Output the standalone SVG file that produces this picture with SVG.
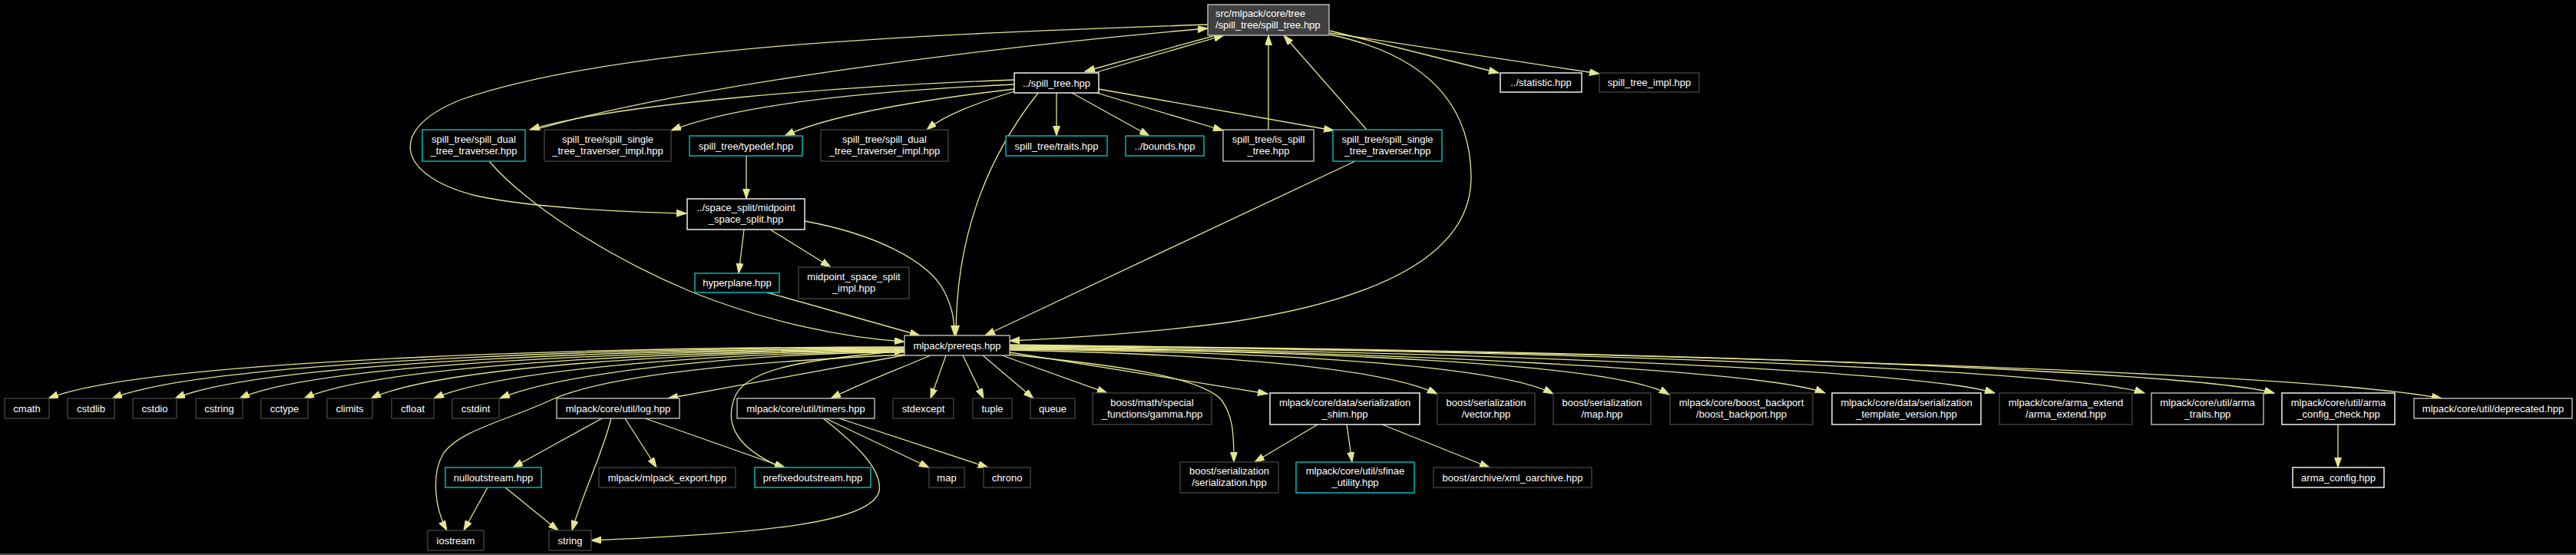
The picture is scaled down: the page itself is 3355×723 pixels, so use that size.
<svg xmlns="http://www.w3.org/2000/svg" width="3355" height="723" viewBox="0 0 3355 723">
<style>
rect.b{fill:#000;stroke-width:1.4}
.w{stroke:#ffffff}
.g{stroke:#bfbfbf}
.d{stroke:#404040}
.c{stroke:#00c4c4}
text{font-family:"Liberation Sans",Arial,sans-serif;font-size:13px;fill:#fff;text-anchor:middle}
#edges path{fill:none;stroke:#e5e58f;stroke-width:1.3;marker-end:url(#a)}
</style>
<defs>
<marker id="a" markerUnits="userSpaceOnUse" markerWidth="14" markerHeight="10" refX="13" refY="4.5" orient="auto">
<path d="M0,0 L13,4.5 L0,9 z" fill="#e5e58f" stroke="#e5e58f" stroke-width="1"/>
</marker>
</defs>
<rect x="0" y="0" width="3355" height="723" fill="#000"/>
<rect x="0" y="721" width="3355" height="2" fill="#4d4d4d"/>
<g id="edges">
<!-- top node out -->
<path d="M1732,40 L1952,95"/>
<path d="M1732,43 L2083,96"/>
<path d="M1732,45 C1850,70 1915,130 1916,230 C1917,330 1800,390 1600,420 C1500,433 1400,440 1315,444"/>
<path d="M1573,32 C1200,45 800,60 600,130 C500,170 520,230 620,255 C700,272 820,276 894,278"/>
<path d="M1580,47 L1413,93"/>
<!-- into top node -->
<path d="M1428,94 L1594,46"/>
<path d="M700,168 C900,110 1300,60 1573,37"/>
<path d="M1652,169 L1652,46"/>
<path d="M1780,169 L1672,46"/>
<!-- ../spill_tree.hpp out -->
<path d="M1321,104 C1100,112 800,135 690,169"/>
<path d="M1321,110 C1100,120 950,140 874,170"/>
<path d="M1321,116 C1200,130 1080,150 1022,177"/>
<path d="M1321,119 C1270,135 1230,150 1207,169"/>
<path d="M1376,121 L1376,177"/>
<path d="M1396,121 L1497,177"/>
<path d="M1425,120 L1593,170"/>
<path d="M1431,116 L1737,170"/>
<path d="M1352,121 C1290,200 1245,300 1245,437"/>
<!-- other upper -->
<path d="M972,203 L972,259"/>
<path d="M969,299 L962,356"/>
<path d="M1003,299 L1082,348"/>
<path d="M1048,288 C1140,305 1210,340 1230,380 C1240,400 1243,415 1243,437"/>
<path d="M999,381 L1198,437"/>
<path d="M1765,210 L1283,437"/>
<path d="M637,210 C680,260 780,330 900,380 C1000,420 1100,440 1178,445"/>
<path d="M1018,609 C950,580 945,545 958,515 C975,480 1050,468 1178,457"/>
<!-- prereqs to left -->
<path d="M1178,452 C850,452 200,465 63,519"/>
<path d="M1178,453 C880,453 280,466 146,519"/>
<path d="M1178,454 C900,454 350,468 228,519"/>
<path d="M1178,455 C920,455 420,470 312,519"/>
<path d="M1178,456 C940,456 500,472 396,519"/>
<path d="M1178,457 C960,457 580,474 483,519"/>
<path d="M1178,458 C980,458 660,478 565,519"/>
<path d="M1178,459 C1000,459 740,482 651,519"/>
<path d="M1182,462 L870,519"/>
<path d="M1212,463 C1160,485 1120,500 1082,519"/>
<path d="M1180,462 C1000,470 800,485 720,520 C660,548 600,560 578,590 C562,615 565,660 582,691"/>
<!-- prereqs to bottom/right -->
<path d="M1232,463 L1212,519"/>
<path d="M1254,463 L1281,519"/>
<path d="M1280,463 L1346,519"/>
<path d="M1305,463 L1442,512"/>
<path d="M1315,459 L1651,513"/>
<path d="M1315,462 C1450,475 1560,490 1590,520 C1605,540 1607,560 1607,602"/>
<path d="M1315,456 C1600,462 1800,480 1872,513"/>
<path d="M1315,455 C1650,458 1950,475 2023,513"/>
<path d="M1315,454 C1700,457 2100,472 2174,514"/>
<path d="M1315,453 C1800,457 2300,482 2377,512"/>
<path d="M1315,452 C1900,457 2500,482 2598,512"/>
<path d="M1315,451 C2000,455 2700,482 2793,512"/>
<path d="M1315,450 C2100,455 2850,482 2962,512"/>
<path d="M1315,449 C2200,460 3000,485 3180,519"/>
<!-- lower -->
<path d="M784,545 L668,609"/>
<path d="M796,545 C785,590 760,640 745,691"/>
<path d="M814,545 L855,609"/>
<path d="M840,545 L1022,609"/>
<path d="M635,635 L604,691"/>
<path d="M658,635 L727,691"/>
<path d="M1075,545 L1210,609"/>
<path d="M1093,545 L1287,609"/>
<path d="M1072,545 C1110,575 1150,610 1145,640 C1135,680 1000,695 770,704"/>
<path d="M1716,553 L1634,602"/>
<path d="M1754,553 L1761,602"/>
<path d="M1800,553 L1940,609"/>
<path d="M3045,553 L3045,609"/>
</g>
<g id="n_top"><rect x="1573" y="6" width="158" height="40" fill="#404040" stroke="#bfbfbf" stroke-width="1.4"/><text x="1583" y="22" style="text-anchor:start">src/mlpack/core/tree</text><text x="1583" y="37" style="text-anchor:start">/spill_tree/spill_tree.hpp</text></g>
<g id="n_statistic"><rect class="b w" x="1954" y="95" width="106" height="25"/><text x="2007" y="112">../statistic.hpp</text></g>
<g id="n_spill_tree_impl"><rect class="b d" x="2083" y="95" width="130" height="25"/><text x="2148" y="112">spill_tree_impl.hpp</text></g>
<g id="n_spill_tree"><rect class="b w" x="1321" y="95" width="110" height="26"/><text x="1376" y="112.5">../spill_tree.hpp</text></g>
<g id="n_spill_dual"><rect class="b c" x="550" y="169" width="134" height="41"/><text x="617" y="185.5">spill_tree/spill_dual</text><text x="617" y="200.5">_tree_traverser.hpp</text></g>
<g id="n_spill_single_impl"><rect class="b d" x="709" y="169" width="165" height="41"/><text x="791.5" y="185.5">spill_tree/spill_single</text><text x="791.5" y="200.5">_tree_traverser_impl.hpp</text></g>
<g id="n_typedef"><rect class="b c" x="898" y="177" width="147" height="26"/><text x="971.5" y="194.5">spill_tree/typedef.hpp</text></g>
<g id="n_spill_dual_impl"><rect class="b d" x="1069" y="169" width="166" height="41"/><text x="1152" y="185.5">spill_tree/spill_dual</text><text x="1152" y="200.5">_tree_traverser_impl.hpp</text></g>
<g id="n_traits"><rect class="b c" x="1310" y="177" width="132" height="26"/><text x="1376" y="194.5">spill_tree/traits.hpp</text></g>
<g id="n_bounds"><rect class="b c" x="1466" y="177" width="102" height="26"/><text x="1517" y="194.5">../bounds.hpp</text></g>
<g id="n_is_spill"><rect class="b g" x="1593" y="169" width="118" height="41"/><text x="1652" y="185.5">spill_tree/is_spill</text><text x="1652" y="200.5">_tree.hpp</text></g>
<g id="n_spill_single"><rect class="b c" x="1736" y="169" width="142" height="41"/><text x="1807" y="185.5">spill_tree/spill_single</text><text x="1807" y="200.5">_tree_traverser.hpp</text></g>
<g id="n_midpoint"><rect class="b w" x="895" y="259" width="153" height="40"/><text x="971.5" y="275">../space_split/midpoint</text><text x="971.5" y="290">_space_split.hpp</text></g>
<g id="n_hyperplane"><rect class="b c" x="905" y="356" width="110" height="25"/><text x="960" y="373">hyperplane.hpp</text></g>
<g id="n_midpoint_impl"><rect class="b d" x="1040" y="348" width="144" height="41"/><text x="1112" y="364.5">midpoint_space_split</text><text x="1112" y="379.5">_impl.hpp</text></g>
<g id="n_prereqs"><rect class="b g" x="1178" y="437" width="137" height="26"/><text x="1246.5" y="454.5">mlpack/prereqs.hpp</text></g>
<g id="n_cmath"><rect class="b d" x="6" y="519" width="58" height="26"/><text x="35" y="536.5">cmath</text></g>
<g id="n_cstdlib"><rect class="b d" x="88" y="519" width="61" height="26"/><text x="118.5" y="536.5">cstdlib</text></g>
<g id="n_cstdio"><rect class="b d" x="173" y="519" width="57" height="26"/><text x="201.5" y="536.5">cstdio</text></g>
<g id="n_cstring"><rect class="b d" x="255" y="519" width="61" height="26"/><text x="285.5" y="536.5">cstring</text></g>
<g id="n_cctype"><rect class="b d" x="340" y="519" width="61" height="26"/><text x="370.5" y="536.5">cctype</text></g>
<g id="n_climits"><rect class="b d" x="426" y="519" width="59" height="26"/><text x="455.5" y="536.5">climits</text></g>
<g id="n_cfloat"><rect class="b d" x="510" y="519" width="55" height="26"/><text x="537.5" y="536.5">cfloat</text></g>
<g id="n_cstdint"><rect class="b d" x="589" y="519" width="61" height="26"/><text x="619.5" y="536.5">cstdint</text></g>
<g id="n_log"><rect class="b g" x="725" y="519" width="160" height="26"/><text x="805" y="536.5">mlpack/core/util/log.hpp</text></g>
<g id="n_timers"><rect class="b g" x="960" y="519" width="179" height="26"/><text x="1049.5" y="536.5">mlpack/core/util/timers.hpp</text></g>
<g id="n_stdexcept"><rect class="b d" x="1163" y="519" width="79" height="26"/><text x="1202.5" y="536.5">stdexcept</text></g>
<g id="n_tuple"><rect class="b d" x="1267" y="519" width="51" height="26"/><text x="1292.5" y="536.5">tuple</text></g>
<g id="n_queue"><rect class="b d" x="1342" y="519" width="58" height="26"/><text x="1371" y="536.5">queue</text></g>
<g id="n_gamma"><rect class="b d" x="1423" y="512" width="155" height="41"/><text x="1500.5" y="528.5">boost/math/special</text><text x="1500.5" y="543.5">_functions/gamma.hpp</text></g>
<g id="n_shim"><rect class="b w" x="1654" y="512" width="195" height="41"/><text x="1751.5" y="528.5">mlpack/core/data/serialization</text><text x="1751.5" y="543.5">_shim.hpp</text></g>
<g id="n_vector"><rect class="b d" x="1872" y="512" width="127" height="41"/><text x="1935.5" y="528.5">boost/serialization</text><text x="1935.5" y="543.5">/vector.hpp</text></g>
<g id="n_map_ser"><rect class="b d" x="2023" y="512" width="127" height="41"/><text x="2086.5" y="528.5">boost/serialization</text><text x="2086.5" y="543.5">/map.hpp</text></g>
<g id="n_boost_backport"><rect class="b d" x="2175" y="512" width="186" height="41"/><text x="2268" y="528.5">mlpack/core/boost_backport</text><text x="2268" y="543.5">/boost_backport.hpp</text></g>
<g id="n_template_version"><rect class="b w" x="2386" y="512" width="194" height="41"/><text x="2483" y="528.5">mlpack/core/data/serialization</text><text x="2483" y="543.5">_template_version.hpp</text></g>
<g id="n_arma_extend"><rect class="b d" x="2604" y="512" width="173" height="41"/><text x="2690.5" y="528.5">mlpack/core/arma_extend</text><text x="2690.5" y="543.5">/arma_extend.hpp</text></g>
<g id="n_arma_traits"><rect class="b g" x="2802" y="512" width="146" height="41"/><text x="2875" y="528.5">mlpack/core/util/arma</text><text x="2875" y="543.5">_traits.hpp</text></g>
<g id="n_config_check"><rect class="b w" x="2972" y="512" width="147" height="41"/><text x="3045.5" y="528.5">mlpack/core/util/arma</text><text x="3045.5" y="543.5">_config_check.hpp</text></g>
<g id="n_deprecated"><rect class="b g" x="3144" y="519" width="206" height="26"/><text x="3247" y="536.5">mlpack/core/util/deprecated.hpp</text></g>
<g id="n_nulloutstream"><rect class="b c" x="580" y="609" width="125" height="26"/><text x="642.5" y="626.5">nulloutstream.hpp</text></g>
<g id="n_mlpack_export"><rect class="b d" x="780" y="609" width="178" height="26"/><text x="869" y="626.5">mlpack/mlpack_export.hpp</text></g>
<g id="n_prefixedoutstream"><rect class="b c" x="983" y="609" width="151" height="26"/><text x="1058.5" y="626.5">prefixedoutstream.hpp</text></g>
<g id="n_map"><rect class="b d" x="1210" y="609" width="46" height="26"/><text x="1233" y="626.5">map</text></g>
<g id="n_chrono"><rect class="b d" x="1281" y="609" width="61" height="26"/><text x="1311.5" y="626.5">chrono</text></g>
<g id="n_serialization"><rect class="b d" x="1537" y="602" width="128" height="40"/><text x="1601" y="618">boost/serialization</text><text x="1601" y="633">/serialization.hpp</text></g>
<g id="n_sfinae"><rect class="b c" x="1688" y="602" width="154" height="40"/><text x="1765" y="618">mlpack/core/util/sfinae</text><text x="1765" y="633">_utility.hpp</text></g>
<g id="n_xml_oarchive"><rect class="b d" x="1867" y="609" width="206" height="26"/><text x="1970" y="626.5">boost/archive/xml_oarchive.hpp</text></g>
<g id="n_arma_config"><rect class="b w" x="2986" y="609" width="119" height="26"/><text x="3045.5" y="626.5">arma_config.hpp</text></g>
<g id="n_iostream"><rect class="b d" x="557" y="691" width="73" height="26"/><text x="593.5" y="708.5">iostream</text></g>
<g id="n_string"><rect class="b d" x="715" y="691" width="55" height="26"/><text x="742.5" y="708.5">string</text></g>
</svg>
